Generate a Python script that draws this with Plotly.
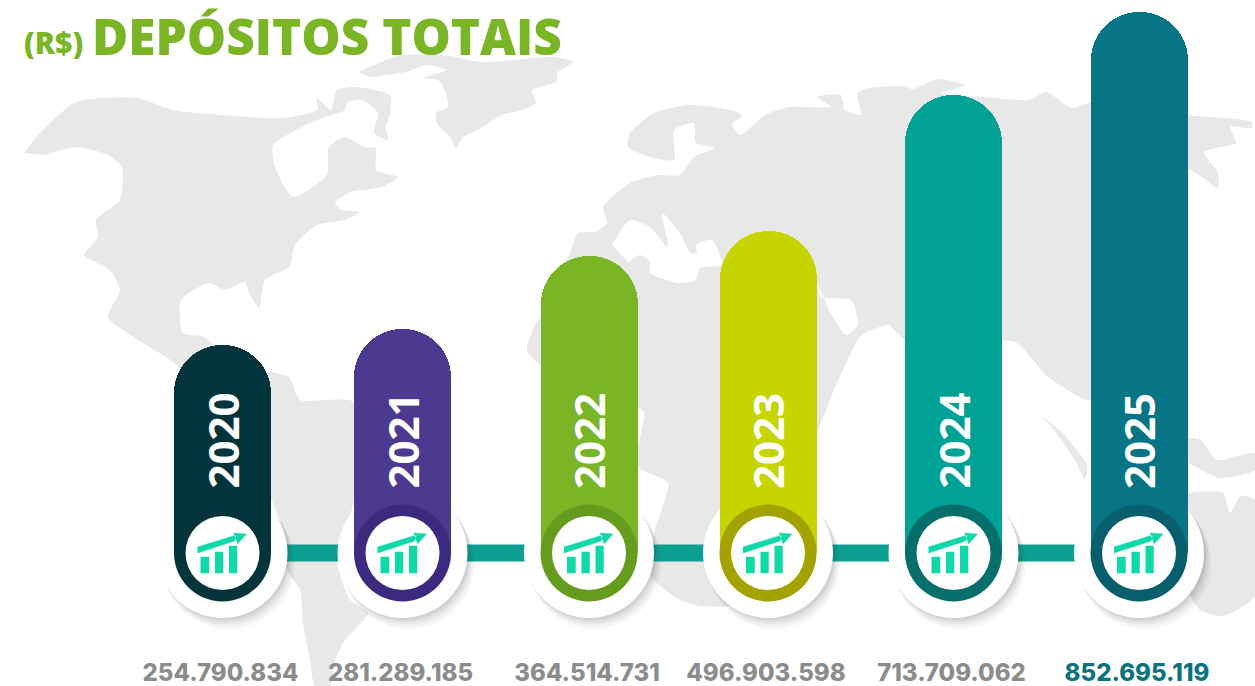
import plotly.graph_objects as go

# ---------- data ----------
years = ["2020", "2021", "2022", "2023", "2024", "2025"]
value_labels = ["254.790.834", "281.289.185", "364.514.731",
                "496.903.598", "713.709.062", "852.695.119"]
# The picture's pills are not proportional to the printed numbers: heights as drawn
bar_heights = [208, 224, 297, 322, 458, 541]
bar_colors = ["#03343c", "#4c3a91", "#7ab526", "#c6d400", "#00a295", "#077585"]
ring_colors = ["#03343c", "#3b2a80", "#659c1e", "#a3a300", "#066e6b", "#075e6c"]
label_colors = ["#8c8c8c"] * 5 + ["#0b7280"]

# ---------- layout constants ----------
W, H = 1255, 686
slots = [222.5, 402.5, 589, 768, 953.5, 1139]
BASE = 553
x_range = [0, W]
y_range = [BASE - H, BASE]
GREY = "#e8e8e8"

# Background world map silhouette (decorative, picture outline)
north_america = [(24,153),(40,133),(76,102),(137,98),(173,110),(281,118),(317,110),(317,98),(331,110),(337,90),
    (354,87),(390,95),(390,113),(386,127),(388,140),(374,133),(378,113),(362,100),(348,102),(345,110),(317,120),
    (273,145),(275,167),(293,197),(327,175),(329,147),(345,137),(364,147),(376,148),(376,170),(398,177),(382,187),
    (350,192),(335,203),(342,210),(360,212),(345,220),(317,225),(295,245),(289,267),(265,280),(259,308),(249,293),
    (245,282),(225,290),(209,283),(181,300),(183,333),(205,337),(240,372),(271,372),(290,378),(300,400),(353,402),
    (354,500),(337,560),(350,600),(368,613),(345,640),(335,660),(330,686),(315,686),(310,660),(303,623),(300,590),
    (287,570),(280,520),(240,440),(173,362),(143,343),(108,317),(120,290),(110,270),(84,255),(98,237),(96,220),
    (120,200),(122,167),(108,155),(76,147),(44,155)]
greenland = [(358,72),(386,60),(402,55),(442,55),(482,62),(554,57),(573,62),(558,72),(556,82),(532,90),(536,103),
    (522,110),(502,115),(478,130),(462,138),(456,148),(450,137),(438,125),(436,113),(448,107),(446,93),(438,80),
    (424,78),(446,70),(426,65),(406,72),(370,77)]
eurasia_africa = [(570,253),(578,233),(595,232),(607,223),(603,207),(630,183),(658,175),(680,175),(694,157),(714,148),
    (696,143),(694,123),(674,130),(674,160),(650,157),(628,147),(630,133),(654,113),(690,105),(738,112),(742,117),
    (732,123),(740,135),(765,115),(789,107),(831,107),(817,97),(841,95),(845,110),(861,115),(857,93),(869,88),
    (901,86),(913,89),(937,79),(965,85),(941,93),(981,97),(1029,100),(1046,92),(1072,108),(1090,103),(1186,115),
    (1252,122),(1252,128),(1230,127),(1236,143),(1204,152),(1218,173),(1218,188),(1188,170),(1130,300),(1089,400),
    (1060,385),(1047,376),(1017,343),(1002,340),(905,340),(888,325),(862,335),(856,343),(834,390),(817,433),
    (770,540),(748,590),(728,606),(702,606),(680,600),(650,575),(655,530),(668,483),(637,466),(644,413),(637,406),
    (600,400),(540,365),(527,350),(534,327),(542,313),(550,290)]
mediterranean = [(612,245),(630,220),(650,227),(668,247),(662,213),(680,233),(690,253),(697,253),(696,245),(712,240),
    (722,265),(700,268),(696,280),(678,283),(650,273),(650,262),(640,255),(628,262)]
arabian_sea = [(817,283),(821,297),(851,300),(858,325),(846,335),(830,312)]
sumatra = [(1037,413),(1050,425),(1075,460),(1085,480),(1087,465),(1060,430)]
new_guinea = [(1187,438),(1201,440),(1217,460),(1255,453),(1255,470),(1220,478),(1187,462)]
australia = [(1187,493),(1223,493),(1230,513),(1241,496),(1255,500),(1255,596),(1223,616),(1200,610),(1187,590)]

def blob(points, color):
    return go.Scatter(x=[p[0] for p in points], y=[BASE - p[1] for p in points], mode="lines",
                      line=dict(color=color, width=0, shape="spline", smoothing=0.6),
                      fill="toself", fillcolor=color, hoverinfo="skip", showlegend=False)

fig = go.Figure()

# --- layer 1: map, connector, white discs with soft shadow ---
for poly in (north_america, greenland, eurasia_africa, sumatra, new_guinea, australia):
    fig.add_trace(blob(poly, GREY))
for poly in (mediterranean, arabian_sea):
    fig.add_trace(blob(poly, "#ffffff"))

fig.add_trace(go.Scatter(x=slots, y=[0] * 6, mode="lines", line=dict(color="#0aa092", width=17),
                         hoverinfo="skip", showlegend=False))
for dx, dy, size, alpha in [(6, -10, 133, .03), (5, -8, 132, .04), (4, -6, 131, .05), (3, -4, 130, .06), (2, -2, 130, .07)]:
    fig.add_trace(go.Scatter(x=[s + dx for s in slots], y=[dy] * 6, mode="markers",
                             marker=dict(size=size, color=f"rgba(60,60,60,{alpha})", line_width=0),
                             hoverinfo="skip", showlegend=False))
fig.add_trace(go.Scatter(x=slots, y=[0] * 6, mode="markers",
                         marker=dict(size=130, color="#ffffff", line_width=0),
                         hoverinfo="skip", showlegend=False))

# --- layer 2: the pills ---
fig.add_trace(go.Bar(x=slots, y=bar_heights, width=97, marker=dict(color=bar_colors, line_width=0, cornerradius=48),
                     xaxis="x2", yaxis="y2", hovertext=value_labels, showlegend=False))

# --- layer 3: rings, inner discs, icons, value labels ---
fig.add_trace(go.Scatter(x=slots, y=[0] * 6, mode="markers", xaxis="x3", yaxis="y3",
                         marker=dict(size=97, color=ring_colors, line_width=0), hoverinfo="skip", showlegend=False))
fig.add_trace(go.Scatter(x=slots, y=[0] * 6, mode="markers", xaxis="x3", yaxis="y3",
                         marker=dict(size=74, color="#ffffff", line_width=0), hoverinfo="skip", showlegend=False))

icon_parts = [
    [(-22, -20), (-13.5, -20), (-13.5, -4), (-22, -4)],
    [(-7.5, -20), (0.5, -20), (0.5, 1), (-7.5, 1)],
    [(6.5, -20), (14.5, -20), (14.5, 7), (6.5, 7)],
    [(-25, 0), (12, 12), (14, 18), (-25, 6)],
    [(11, 20), (24, 19), (15, 9)],
]
icon_x, icon_y = [], []
for s in slots:
    for part in icon_parts:
        icon_x += [s + p[0] for p in part] + [None]
        icon_y += [p[1] for p in part] + [None]
fig.add_trace(go.Scatter(x=icon_x, y=icon_y, mode="lines", xaxis="x3", yaxis="y3", fill="toself",
                         fillcolor="#10d9a9", line=dict(color="#10d9a9", width=0.5),
                         hoverinfo="skip", showlegend=False))

fig.add_trace(go.Scatter(x=[s - 2 for s in slots], y=[-122] * 6, mode="text", text=value_labels,
                         xaxis="x3", yaxis="y3", textposition="middle center",
                         textfont=dict(family="Inter", size=24, weight=800, color=label_colors),
                         hoverinfo="skip", showlegend=False))

annotations = [
    dict(x=s - 1, y=62, xref="x", yref="y", text=yr, textangle=-90, showarrow=False,
         xanchor="center", yanchor="bottom",
         font=dict(family="Open Sans", size=42, weight=700, color="#ffffff"))
    for s, yr in zip(slots, years)
]
annotations += [
    dict(x=22, y=BASE - 42, xref="x", yref="y", text="(R$)", showarrow=False, xanchor="left", yanchor="middle",
         font=dict(family="Open Sans", size=30, weight=800, color="#7ab526")),
    dict(x=90, y=BASE - 36, xref="x", yref="y", text="DEPÓSITOS TOTAIS", showarrow=False, xanchor="left",
         yanchor="middle", font=dict(family="Open Sans", size=49.5, weight=800, color="#7ab526")),
]

axis = dict(visible=False, fixedrange=True)
fig.update_layout(
    width=W, height=H, margin=dict(l=0, r=0, t=0, b=0), paper_bgcolor="#ffffff", plot_bgcolor="#ffffff",
    showlegend=False, annotations=annotations, bargap=0,
    xaxis=dict(range=x_range, **axis), yaxis=dict(range=y_range, **axis),
    xaxis2=dict(range=x_range, overlaying="x", **axis), yaxis2=dict(range=y_range, overlaying="y", **axis),
    xaxis3=dict(range=x_range, overlaying="x", **axis), yaxis3=dict(range=y_range, overlaying="y", **axis),
)

fig.write_html("out.html", post_script="document.body.style.margin='0';",
               config=dict(displayModeBar=False))
